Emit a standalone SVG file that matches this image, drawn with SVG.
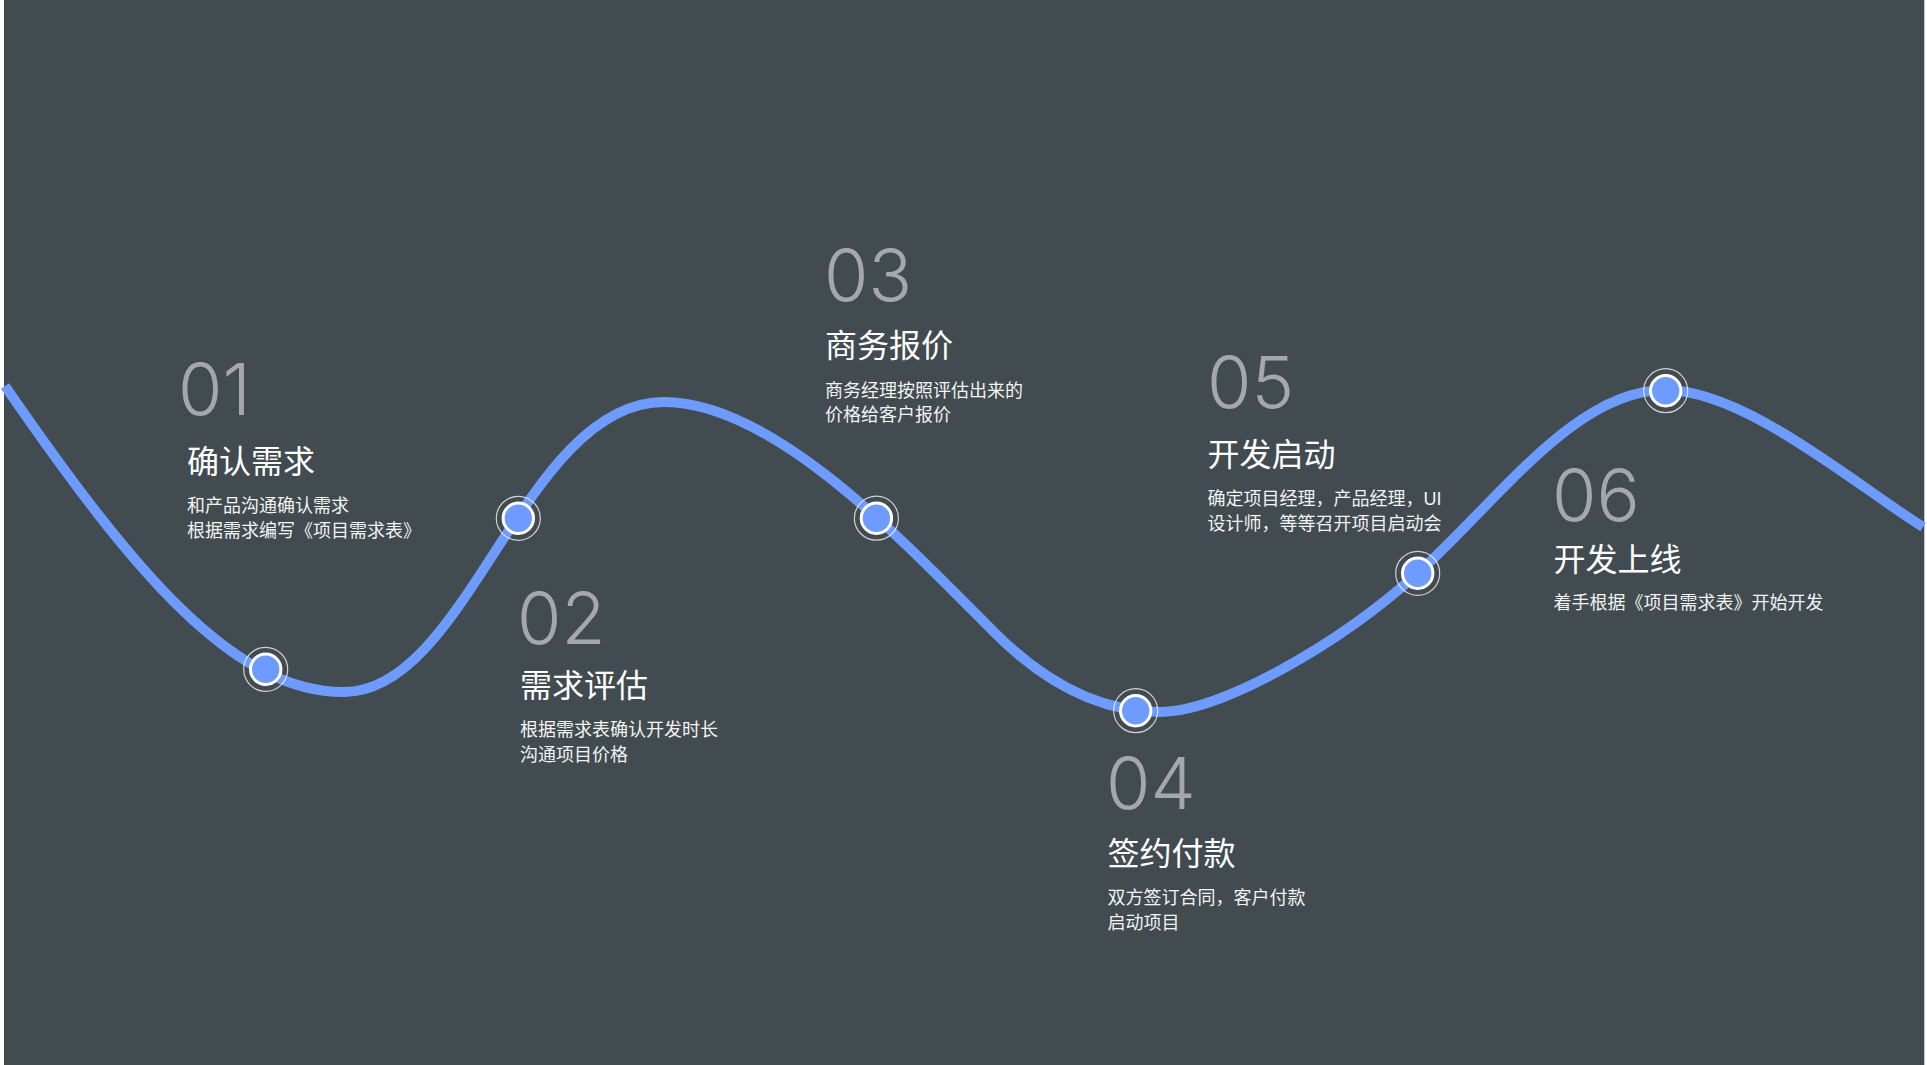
<svg xmlns="http://www.w3.org/2000/svg" width="1927" height="1065" viewBox="0 0 1927 1065">
  <style>
    .num { font-family: Inter, Roboto, "Liberation Sans", sans-serif; font-weight: 300; font-size: 72px; fill: #A3A8AA; }
    .title { font-family: "Noto Sans CJK SC", sans-serif; font-size: 32px; fill: #FFFFFF; }
    .desc { font-family: "Liberation Sans", "Noto Sans CJK SC", sans-serif; font-size: 18px; fill: #F3F3F3; }
    .curve { fill: none; stroke: #6E9BFF; stroke-width: 10; stroke-linecap: butt; }
    .halo { fill: none; stroke: #FFFFFF; stroke-opacity: 0.75; stroke-width: 1.2; }
    .dot { fill: #6E9BFF; stroke: #FFFFFF; stroke-width: 3; }
  </style>
  <defs>
    <g id="marker-node">
      <circle class="halo" cx="0" cy="0" r="22"/>
      <circle class="dot" cx="0" cy="0" r="15.2"/>
    </g>
  </defs>
  <rect x="0" y="0" width="1927" height="1065" fill="#FFFFFF"/>
  <rect x="4" y="0" width="1920.3" height="1065" fill="#414B50"/>

  <g id="connectors">
    <path class="curve" d="M5,386 C135,574.5 234,692 344,692 C468,692 524,402 664,402 C774,402 905,543 995,633 C1035,673 1090,712 1160,712 C1220,712 1337.7,645.3 1417.7,573.3 C1497.7,501.3 1575,390 1665,390 C1745,390 1853,483 1923,527"/>
  </g>

  <g id="node-01">
    <use href="#marker-node" x="265.7" y="669.3"/>
    <text class="num" x="178" y="415">01</text>
    <text class="title" x="187" y="473">确认需求</text>
    <text class="desc" x="187" y="511.5">和产品沟通确认需求</text>
    <text class="desc" x="187" y="536.5">根据需求编写《项目需求表》</text>
  </g>

  <g id="node-02">
    <use href="#marker-node" x="518.3" y="518.3"/>
    <text class="num" x="517" y="644">02</text>
    <text class="title" x="520" y="697">需求评估</text>
    <text class="desc" x="520" y="736">根据需求表确认开发时长</text>
    <text class="desc" x="520" y="760.5">沟通项目价格</text>
  </g>

  <g id="node-03">
    <use href="#marker-node" x="876.4" y="518.2"/>
    <text class="num" x="824" y="301">03</text>
    <text class="title" x="825" y="357">商务报价</text>
    <text class="desc" x="825" y="397">商务经理按照评估出来的</text>
    <text class="desc" x="825" y="420.5">价格给客户报价</text>
  </g>

  <g id="node-04">
    <use href="#marker-node" x="1135.7" y="710.7"/>
    <text class="num" x="1106" y="809">04</text>
    <text class="title" x="1107.5" y="864.5">签约付款</text>
    <text class="desc" x="1107.5" y="903.7">双方签订合同，客户付款</text>
    <text class="desc" x="1107.5" y="928.7">启动项目</text>
  </g>

  <g id="node-05">
    <use href="#marker-node" x="1417.7" y="573.3"/>
    <text class="num" x="1207" y="408">05</text>
    <text class="title" x="1207.5" y="466">开发启动</text>
    <text class="desc" x="1207.5" y="505.4">确定项目经理，产品经理，UI</text>
    <text class="desc" x="1207.5" y="530.4">设计师，等等召开项目启动会</text>
  </g>

  <g id="node-06">
    <use href="#marker-node" x="1665.7" y="390.7"/>
    <text class="num" x="1552" y="521">06</text>
    <text class="title" x="1553.5" y="570.5">开发上线</text>
    <text class="desc" x="1553.5" y="609.4">着手根据《项目需求表》开始开发</text>
  </g>
</svg>
